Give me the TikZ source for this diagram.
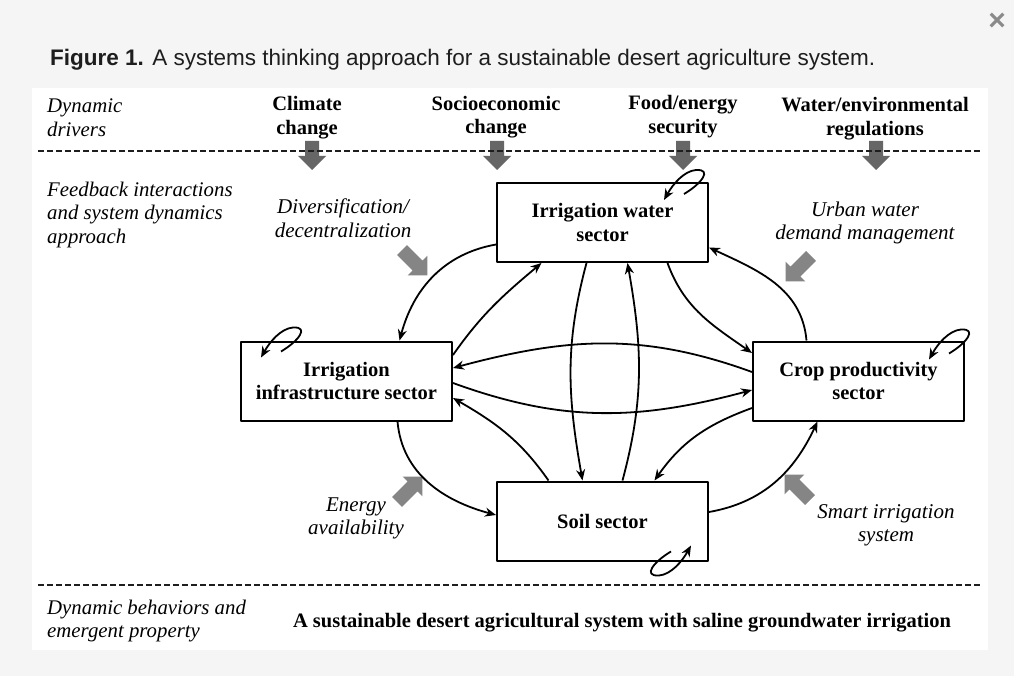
\documentclass[tikz,border=0pt]{standalone}
\usepackage{fontspec}
\setmainfont{Liberation Serif}
\newfontfamily\titlefont{Liberation Sans}
\usetikzlibrary{arrows.meta}
\definecolor{bgpage}{HTML}{F5F5F5}
\definecolor{captxt}{HTML}{1E1E1E}
\definecolor{closegray}{HTML}{8A8A8A}
\definecolor{drvdark}{HTML}{666666}
\definecolor{drvlight}{HTML}{858585}
\begin{document}
\begin{tikzpicture}[x=1pt,y=1pt,>={Stealth[length=11pt,width=9pt]},line join=round,
	sector/.style={draw,line width=2pt,minimum width=211pt,minimum height=79pt,inner sep=0pt,align=center,font=\fontsize{20.5}{23.5}\selectfont\bfseries},
	drvlbl/.style={align=center,inner sep=0pt,font=\fontsize{20.5}{23.5}\selectfont\bfseries},
	itlbl/.style={align=center,inner sep=0pt,font=\fontsize{21}{23.5}\selectfont\itshape},
	rowlbl/.style={anchor=west,align=left,inner sep=0pt,font=\fontsize{20.8}{23.5}\selectfont\itshape},
	link/.style={->,line width=1.8pt},
	sep/.style={line width=2.2pt,dash pattern=on 6pt off 3pt,color=captxt},
	selfloop/.pic={\draw[->,line width=1.8pt] (0,0) .. controls (17,10) and (29,25) .. (12,24) .. controls (0,23) and (-11,10) .. (-20,-6);},
	drv/.pic={\fill (0,-7) -- (#1,-7) -- (#1,-14) -- (#1+14,0) -- (#1,14) -- (#1,7) -- (0,7) -- cycle;}]
	\fill[bgpage] (0,0) rectangle (1014,-676);
	\fill[white] (32,-88) rectangle (988,-650);
	% caption and close button
	\node[anchor=west,inner sep=0pt,text=captxt,font=\titlefont\fontsize{22.5}{26}\selectfont] (title) at (50,-60) {\textbf{Figure 1.} A systems thinking approach for a sustainable desert agriculture system.};
	\node[inner sep=0pt,text=closegray,font=\titlefont\fontsize{30}{30}\selectfont\bfseries] (close) at (997,-22) {×};
	% drivers
	\node[rowlbl] (rowDrivers) at (47,-117.5) {Dynamic\\drivers};
	\node[drvlbl] (climate) at (307,-117.5) {Climate\\change};
	\node[drvlbl] (socio) at (496,-117) {Socioeconomic\\change};
	\node[drvlbl] (food) at (683,-116.5) {Food/energy\\security};
	\node[drvlbl] (regul) at (875,-118.5) {Water/environmental\\regulations};
	\foreach \x in {312,497,683,876}
	\pic[drvdark,rotate=-90] at (\x,-141) {drv=15};
	\draw[sep] (38,-151)--(980,-151);
	\draw[sep] (38,-585)--(980,-585);
	% sectors
	\node[rowlbl] (rowFeedback) at (47,-214.5) {Feedback interactions\\and system dynamics\\approach};
	\node[sector] (water) at (602.5,-222.5) {Irrigation water\\sector};
	\node[sector] (infra) at (346.5,-381) {Irrigation\\infrastructure sector};
	\node[sector] (crop) at (858.5,-381) {Crop productivity\\sector};
	\node[sector] (soil) at (602.5,-521) {Soil sector};
	\node[itlbl] (diversify) at (343,-218) {Diversification/\\decentralization};
	\node[itlbl] (urban) at (865,-223) {Urban water\\demand management};
	\node[itlbl] (energy) at (356,-518.5) {Energy\\availability};
	\node[itlbl] (smart) at (886,-525.5) {Smart irrigation\\system};
	\pic[drvlight,rotate=-45] at (402,-250) {drv=22};
	\pic[drvlight,rotate=-135] at (811,-256) {drv=22};
	\pic[drvlight,rotate=45] at (397,-502) {drv=22};
	\pic[drvlight,rotate=135] at (810,-500) {drv=22};
	% feedback links
	\draw[link] ([yshift=-22pt]water.west) to[out=190,in=75] ([xshift=53pt]infra.north);
	\draw[link] ([yshift=26pt]infra.east) to[out=55,in=220] ([xshift=-61pt]water.south);
	\draw[link] ([xshift=-16pt]water.south) to[out=-105,in=100] ([xshift=-20pt]soil.north);
	\draw[link] ([xshift=20pt]soil.north) to[out=75,in=-80] ([xshift=25pt]water.south);
	\draw[link] ([xshift=65pt]water.south) to[out=-70,in=145] ([yshift=28pt]crop.west);
	\draw[link] ([xshift=-52pt]crop.north) to[out=95,in=-25] ([yshift=-25pt]water.east);
	\draw[link] ([yshift=9pt]crop.west) to[out=160,in=15] ([yshift=13pt]infra.east);
	\draw[link] ([yshift=-2pt]infra.east) to[out=-20,in=195] ([yshift=-9pt]crop.west);
	\draw[link] ([xshift=-54pt]soil.north) to[out=125,in=-30] ([yshift=-17pt]infra.east);
	\draw[link] ([yshift=-27pt]crop.west) to[out=200,in=55] ([xshift=52pt]soil.north);
	\draw[link] ([xshift=51pt]infra.south) to[out=-85,in=165] ([yshift=6pt]soil.west);
	\draw[link] ([yshift=9pt]soil.east) to[out=10,in=-115] ([xshift=-41pt]crop.south);
	% self loops
	\pic at ([shift={(-25,-12)}]water.north east) {selfloop};
	\pic at ([shift={(41,-11)}]infra.north west) {selfloop};
	\pic at ([shift={(-16,-13)}]crop.north east) {selfloop};
	\pic[rotate=180] at ([shift={(-38,10)}]soil.south east) {selfloop};
	% emergent property
	\node[rowlbl] (rowBehavior) at (47,-621) {Dynamic behaviors and\\emergent property};
	\node[drvlbl] (outcome) at (622,-623) {A sustainable desert agricultural system with saline groundwater irrigation};
\end{tikzpicture}
\end{document}
